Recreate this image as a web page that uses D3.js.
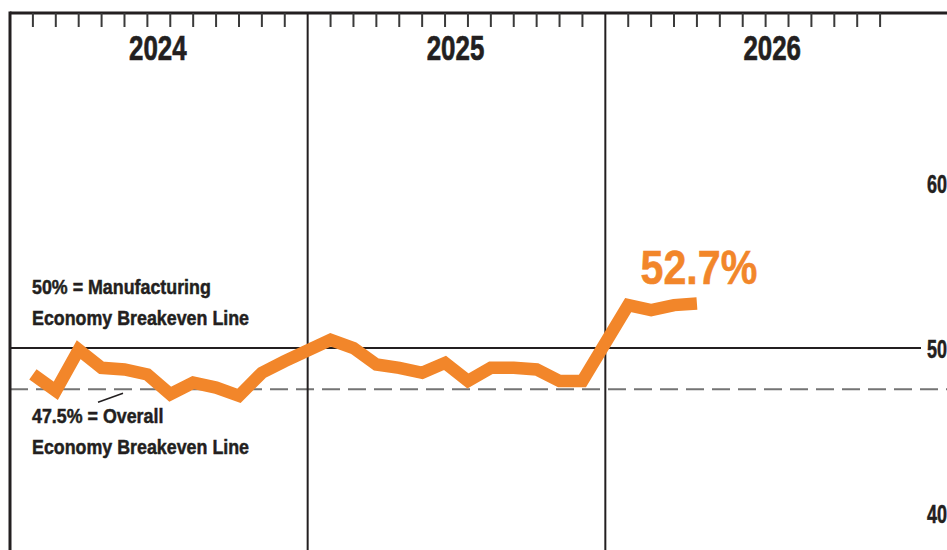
<!DOCTYPE html>
<html>
<head>
<meta charset="utf-8">
<script src="https://cdn.jsdelivr.net/npm/d3@7"></script>
<style>
  html, body { margin: 0; padding: 0; background: #ffffff; }
  svg { display: block; }
  text { font-family: "Liberation Sans", Arial, Helvetica, sans-serif; font-weight: bold; }
</style>
</head>
<body>
<svg id="chart" width="947" height="550"></svg>
<script>
// ---- data ----
const years = ["2024", "2025", "2026"];
const months = ["Jan", "Feb", "Mar", "Apr", "May", "Jun", "Jul", "Aug", "Sep", "Oct", "Nov", "Dec"];
const values2024 = [48.4, 47.4, 49.9, 48.8, 48.7, 48.4, 47.2, 47.9, 47.6, 47.1, 48.5, 49.2];
const values2025 = [50.5, 50.0, 49.0, 48.8, 48.5, 49.1, 48.0, 48.8, 48.8, 48.7, 48.0, 48.0];
const values2026 = [52.6, 52.3, 52.6, 52.7];
const yTicks = [40, 50, 60];
const manufacturingBreakeven = 50;
const overallBreakeven = 47.5;
const latestLabel = "52.7%";
const noteManufacturing = ["50% = Manufacturing", "Economy Breakeven Line"];
const noteOverall = ["47.5% = Overall", "Economy Breakeven Line"];

const seriesByYear = [values2024, values2025, values2026];
const points = years.flatMap((yr, i) =>
  seriesByYear[i].map((v, j) => ({ year: yr, month: months[j], value: v })));

// ---- layout ----
const W = 947, H = 550;
const leftX = 10, topY = 13, yearsRight = 903, plotRight = 921;
const ink = "#231f20";
const orange = "#f2862a";

const svg = d3.select("#chart");

const xYear = d3.scaleBand().domain(years).range([leftX, yearsRight]);
const xMonth = d3.scalePoint().domain(months).range([0, xYear.bandwidth()]).padding(1);
const xOf = d => xYear(d.year) + xMonth(d.month);
const y = d3.scaleLinear().domain([40, 60]).range([513, 183]);

// condensed text helper: places text at (x,y) squeezed horizontally
function condensedText(parent, x, yPos, str, size, sx, anchor, fill, weight) {
  const c = fill || ink;
  return parent.append("text")
    .attr("transform", `translate(${x},${yPos}) scale(${sx},1)`)
    .attr("text-anchor", anchor || "start")
    .attr("font-size", size)
    .attr("fill", c)
    .attr("stroke", c)
    .attr("stroke-width", weight == null ? 0.5 : weight)
    .text(str);
}

// reference lines
svg.append("line")
  .attr("x1", leftX).attr("x2", W)
  .attr("y1", y(overallBreakeven)).attr("y2", y(overallBreakeven))
  .attr("stroke", "#747474").attr("stroke-width", 2)
  .attr("stroke-dasharray", "18,8");

svg.append("line")
  .attr("x1", leftX).attr("x2", plotRight)
  .attr("y1", y(manufacturingBreakeven)).attr("y2", y(manufacturingBreakeven))
  .attr("stroke", ink).attr("stroke-width", 2);

// year dividers
svg.selectAll("line.divider")
  .data(years.slice(1))
  .join("line")
  .attr("class", "divider")
  .attr("x1", d => xYear(d)).attr("x2", d => xYear(d))
  .attr("y1", topY).attr("y2", H)
  .attr("stroke", ink).attr("stroke-width", 2);

// left border & top border
svg.append("line")
  .attr("x1", leftX).attr("x2", leftX).attr("y1", topY - 1.5).attr("y2", H)
  .attr("stroke", ink).attr("stroke-width", 3);
svg.append("line")
  .attr("x1", leftX).attr("x2", W).attr("y1", topY).attr("y2", topY)
  .attr("stroke", ink).attr("stroke-width", 3);

// month ticks along the top
const tickData = years.flatMap(yr => months.map(m => ({ year: yr, month: m })));
svg.selectAll("line.mtick")
  .data(tickData)
  .join("line")
  .attr("class", "mtick")
  .attr("x1", xOf).attr("x2", xOf)
  .attr("y1", topY).attr("y2", topY + 14)
  .attr("stroke", "#3a3a3a").attr("stroke-width", 2);

// year labels
years.forEach((yr, i) => {
  const a = xYear(yr);
  const cx = i === years.length - 1 ? (a + W) / 2 - 4 : a + xYear.bandwidth() / 2 - 1;
  condensedText(svg, cx, 60, yr, 35, 0.74, "middle", ink, 0.7);
});

// right axis (tick values from the y scale)
const axisG = svg.append("g")
  .attr("transform", `translate(${plotRight},0)`)
  .call(d3.axisRight(y).tickValues(yTicks).tickSize(0).tickPadding(0).tickFormat(d3.format("d")));
axisG.select(".domain").remove();
axisG.selectAll(".tick text")
  .attr("x", null).attr("dy", null)
  .attr("transform", "translate(6,9) scale(0.72,1)")
  .attr("text-anchor", "start")
  .attr("font-size", 25)
  .attr("fill", ink)
  .attr("stroke", ink)
  .attr("stroke-width", 0.5)
  .style("font-family", "'Liberation Sans', Arial, sans-serif")
  .style("font-weight", "bold");

// annotations
noteManufacturing.forEach((t, i) =>
  condensedText(svg, 32, y(manufacturingBreakeven) - 54 + i * 31, t, 21, 0.85));
noteOverall.forEach((t, i) =>
  condensedText(svg, 32, y(overallBreakeven) + 34 + i * 31, t, 21, 0.85));
svg.append("line")
  .attr("x1", 98).attr("y1", y(overallBreakeven) + 13)
  .attr("x2", 123).attr("y2", y(overallBreakeven) + 4)
  .attr("stroke", ink).attr("stroke-width", 1.5);

// data line
const line = d3.line().x(xOf).y(d => y(d.value));
svg.append("path")
  .datum(points)
  .attr("d", line)
  .attr("fill", "none")
  .attr("stroke", orange)
  .attr("stroke-width", 12.5)
  .attr("stroke-linejoin", "miter")
  .attr("stroke-linecap", "butt");

// latest value label
const last = points[points.length - 1];
condensedText(svg, xOf(last) + 2, y(last.value) - 19, latestLabel, 49, 0.84, "middle", orange, 0.6);
</script>
</body>
</html>
